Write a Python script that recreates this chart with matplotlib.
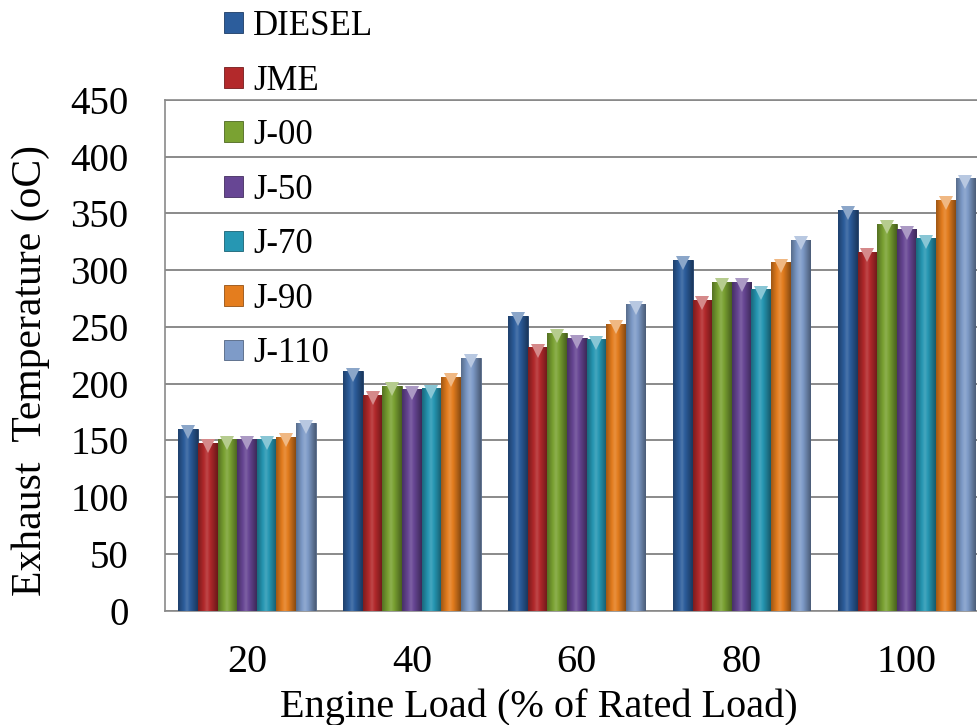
import numpy as np
import matplotlib
matplotlib.use("Agg")
import matplotlib.pyplot as plt
from matplotlib.patches import Patch
from matplotlib.colors import to_rgb

plt.rcParams["font.family"] = ["Liberation Serif", "DejaVu Serif"]

# Exhaust gas temperature (deg C) for each fuel at each engine load
loads = ["20", "40", "60", "80", "100"]
fuels = ["DIESEL", "JME", "J-00", "J-50", "J-70", "J-90", "J-110"]

diesel = [160, 211, 260, 309, 353]
jme    = [148, 190, 232, 274, 316]
j00    = [151, 198, 245, 290, 341]
j50    = [151, 195, 240, 290, 336]
j70    = [151, 196, 239, 283, 328]
j90    = [153, 206, 253, 307, 362]
j110   = [165, 223, 270, 327, 381]

series = [diesel, jme, j00, j50, j70, j90, j110]
colors = ["#2c5d9c", "#b3292b", "#7aa232", "#674694", "#2697b3", "#e47d1e", "#7e9bc8"]


def shade(c, f):
    r = np.array(to_rgb(c))
    if f >= 0:
        return r + (1 - r) * f
    return r * (1 + f)


fig = plt.figure(figsize=(9.77, 7.25), dpi=100)
ax = fig.add_axes([0.1684, 0.1579, 0.8439, 0.7041])

x = np.arange(len(loads))
n = len(fuels)
w = 0.119
handles = []
for i, (vals, col) in enumerate(zip(series, colors)):
    pos = x + (i - (n - 1) / 2) * w
    bars = ax.bar(pos, vals, width=w, color=col, edgecolor=shade(col, -0.35),
                  linewidth=0.6, zorder=3)
    # cylinder-like shading across each bar
    grad = np.linspace(0, 1, 32)
    prof = 1 - 2 * np.abs(grad - 0.45)
    img = np.array([shade(col, -0.35 + 0.5 * p) for p in prof])[None, :, :]
    img = np.clip(img, 0, 1)
    for b in bars:
        bx, by = b.get_x(), b.get_y()
        bw, bh = b.get_width(), b.get_height()
        im = ax.imshow(img, extent=[bx, bx + bw, by, by + bh], aspect="auto",
                       interpolation="bicubic", zorder=3.5)
        im.set_clip_path(b)
    # bevelled cap on top of each bar
    ax.plot(pos, np.array(vals) - 3, ls="none", marker="v", ms=10,
            color=shade(col, 0.45), markeredgewidth=0, zorder=4)
    handles.append(Patch(facecolor=col, edgecolor=shade(col, -0.35), linewidth=0.6))

ax.set_xlim(-0.5, len(loads) - 0.5)
ax.set_ylim(0, 450)
ax.set_yticks(np.arange(0, 451, 50))
ax.set_xticks(x)
ax.set_xticklabels(loads)
ax.yaxis.grid(True, color="#8a8a8a", lw=1.4, zorder=0)
ax.set_axisbelow(True)
for s in ax.spines.values():
    s.set_color("#8a8a8a")
    s.set_linewidth(1.2)
ax.tick_params(axis="y", length=0, pad=26, labelsize=28)
ax.tick_params(axis="x", length=0, pad=24, labelsize=29)

ax.set_ylabel("Exhaust  Temperature (oC)", fontsize=30)
ax.yaxis.set_label_coords(-0.139, 0.471)
ax.set_xlabel("Engine Load (% of Rated Load)", fontsize=29)
ax.xaxis.set_label_coords(0.454, -0.152)

fig.legend(handles, fuels, loc="upper left", bbox_to_anchor=(0.229, 0.986),
           frameon=False, fontsize=25, handlelength=0.55, handleheight=0.55,
           handletextpad=0.3, labelspacing=0.62, borderpad=0, borderaxespad=0)

fig.savefig("out.png", dpi=100)
